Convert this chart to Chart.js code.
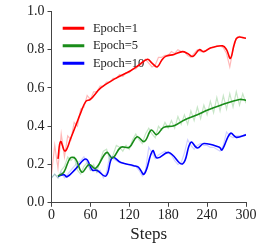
<!DOCTYPE html>
<html>
<head>
<meta charset="utf-8">
<script src="https://cdn.jsdelivr.net/npm/chart.js@4/dist/chart.umd.min.js"></script>
<style>
  html, body { margin: 0; padding: 0; background: #fff; }
</style>
</head>
<body>
<canvas id="myChart" width="260" height="248"></canvas>
<script>
// raw (unsmoothed) curves, one value every 5 steps
const rawSteps = [0,5,10,15,20,25,30,35,40,45,50,55,60,65,70,75,80,85,90,95,100,105,110,115,120,125,130,135,140,145,150,155,160,165,170,175,180,185,190,195,200,205,210,215,220,225,230,235,240,245,250,255,260,265,270,275,280,285,290,295,300];
const rawEpoch1 = [0.15,0.30,0.18,0.36,0.24,0.35,0.33,0.42,0.40,0.49,0.50,0.56,0.54,0.58,0.58,0.61,0.61,0.63,0.63,0.65,0.65,0.67,0.66,0.68,0.68,0.70,0.70,0.72,0.72,0.75,0.73,0.71,0.72,0.76,0.76,0.77,0.77,0.79,0.78,0.80,0.79,0.79,0.77,0.76,0.78,0.80,0.79,0.79,0.80,0.81,0.81,0.82,0.82,0.81,0.78,0.71,0.80,0.86,0.87,0.86,0.86];
const rawEpoch5 = [0.13,0.15,0.13,0.17,0.19,0.24,0.22,0.24,0.17,0.15,0.19,0.21,0.17,0.20,0.16,0.22,0.27,0.28,0.22,0.25,0.30,0.29,0.27,0.30,0.28,0.33,0.36,0.33,0.31,0.36,0.39,0.36,0.34,0.40,0.38,0.42,0.39,0.43,0.39,0.45,0.41,0.46,0.41,0.48,0.43,0.50,0.44,0.51,0.46,0.53,0.47,0.55,0.48,0.56,0.49,0.57,0.50,0.58,0.51,0.57,0.52];
const rawEpoch10 = [0.13,0.15,0.13,0.16,0.13,0.15,0.17,0.19,0.21,0.22,0.24,0.21,0.17,0.18,0.16,0.17,0.13,0.16,0.25,0.23,0.22,0.21,0.21,0.20,0.20,0.19,0.19,0.17,0.14,0.17,0.29,0.26,0.23,0.25,0.26,0.27,0.26,0.25,0.22,0.20,0.21,0.26,0.33,0.30,0.28,0.30,0.31,0.30,0.30,0.29,0.29,0.28,0.27,0.30,0.37,0.35,0.34,0.35,0.35,0.35,0.36];

// smoothed curves
const epoch1Steps = [10,14,21,30,37,45,53,60,76,99,122,135,148,155,163,170,176,189,202,210,218,228,235,246,264,270,276,282,287,300];
const epoch1 = [0.23,0.32,0.27,0.34,0.40,0.47,0.53,0.54,0.60,0.65,0.69,0.72,0.75,0.73,0.71,0.745,0.765,0.775,0.79,0.78,0.765,0.80,0.79,0.81,0.82,0.80,0.755,0.83,0.864,0.86];
const epoch5Steps = [10,19,29,37,47,58,68,85,94,107,120,132,143,154,162,173,189,205,225,241,261,290,300];
const epoch5 = [0.14,0.16,0.234,0.23,0.16,0.20,0.18,0.263,0.234,0.29,0.29,0.345,0.32,0.38,0.356,0.394,0.403,0.433,0.46,0.485,0.51,0.54,0.535];
const epoch10Steps = [10,19,24,38,53,63,70,84,94,107,127,134,143,156,163,181,202,215,225,235,259,263,276,285,300];
const epoch10 = [0.138,0.147,0.136,0.18,0.229,0.171,0.17,0.14,0.237,0.21,0.194,0.186,0.15,0.272,0.234,0.263,0.203,0.316,0.286,0.31,0.29,0.276,0.363,0.342,0.355];

const seriesNames = ['Epoch=1','Epoch=5','Epoch=10'];
const xTicks = [0,60,120,180,240,300];
const yTicks = [0,0.2,0.4,0.6,0.8,1.0];

function pts(xs, ys) {
  return xs.map((x, i) => ({x: x, y: ys[i]}));
}

function rawSet(ys, color) {
  return {
    label: '', data: pts(rawSteps, ys), borderColor: color, borderWidth: 1.2,
    pointRadius: 0, tension: 0, fill: false, isRaw: true
  };
}

function smoothSet(name, xs, ys, color) {
  return {
    label: name, data: pts(xs, ys), borderColor: color, backgroundColor: color,
    borderWidth: 1.6, pointRadius: 0, tension: 0.4, fill: false
  };
}

// nudge the in-plot legend away from the axes
const legendShift = {
  id: 'legendShift',
  beforeDraw(chart) {
    if (chart.legend) {
      chart.legend.left += 7;
      chart.legend.top += 17;
    }
  }
};

const axisColor = '#444';
const serif = "'Liberation Serif', 'Times New Roman', serif";
const tickFont = {family: serif, size: 14};

const ctx = document.getElementById('myChart').getContext('2d');
const myChart = new Chart(ctx, {
  type: 'line',
  data: {
    datasets: [
      rawSet(rawEpoch1, 'rgba(255,0,0,0.28)'),
      rawSet(rawEpoch5, 'rgba(0,140,0,0.22)'),
      rawSet(rawEpoch10, 'rgba(0,0,255,0.18)'),
      smoothSet(seriesNames[0], epoch1Steps, epoch1, '#ff0000'),
      smoothSet(seriesNames[1], epoch5Steps, epoch5, '#1a8c1a'),
      smoothSet(seriesNames[2], epoch10Steps, epoch10, '#0000ff')
    ]
  },
  options: {
    responsive: false,
    animation: false,
    layout: {padding: {left: 24, right: 14, top: 3, bottom: 3.5}},
    plugins: {
      tooltip: {enabled: false},
      legend: {
        position: 'chartArea',
        align: 'start',
        labels: {
          filter: (item, data) => !data.datasets[item.datasetIndex].isRaw,
          generateLabels: (chart) => Chart.defaults.plugins.legend.labels.generateLabels(chart)
            .map(l => Object.assign(l, {text: ' ' + l.text})),
          boxWidth: 20,
          boxHeight: 1.5,
          padding: 5,
          color: '#222',
          font: {family: serif, size: 12.5}
        }
      }
    },
    scales: {
      x: {
        type: 'linear',
        min: 0, max: 300,
        afterBuildTicks: (axis) => { axis.ticks = xTicks.map(v => ({value: v})); },
        ticks: {color: '#222', font: tickFont, padding: 0, maxRotation: 0},
        grid: {display: true, drawOnChartArea: false, drawTicks: true, tickLength: 4, color: axisColor},
        border: {display: true, color: axisColor, width: 1},
        title: {display: true, text: 'Steps', color: '#222', padding: {top: 0.5, bottom: 0},
                font: {family: serif, size: 17}}
      },
      y: {
        min: 0, max: 1,
        afterBuildTicks: (axis) => { axis.ticks = yTicks.map(v => ({value: v})); },
        ticks: {color: '#222', font: tickFont, padding: 3, callback: (v) => Number(v).toFixed(1)},
        grid: {display: true, drawOnChartArea: false, drawTicks: true, tickLength: 4, color: axisColor},
        border: {display: true, color: axisColor, width: 1}
      }
    }
  },
  plugins: [legendShift]
});
</script>
</body>
</html>
